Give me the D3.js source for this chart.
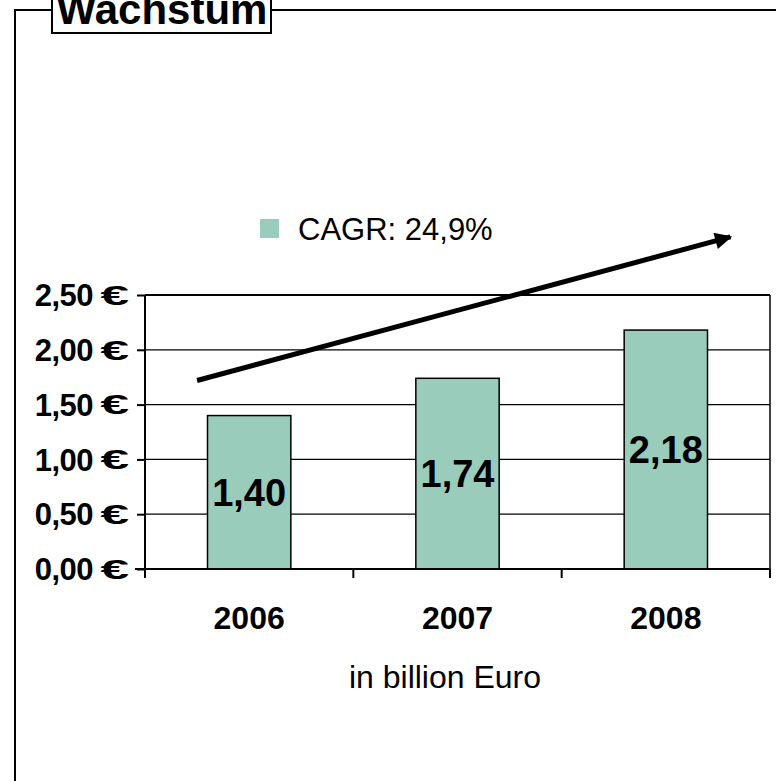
<!DOCTYPE html>
<html>
<head>
<meta charset="utf-8">
<script src="https://cdn.jsdelivr.net/npm/d3@7"></script>
<style>
  body { margin: 0; background: #fff; }
  svg { display: block; font-family: "Liberation Sans", Arial, sans-serif; }
</style>
</head>
<body>
<div id="chart"></div>
<script>
// data
let years = ["2006", "2007", "2008"];
let values = [1.40, 1.74, 2.18];
let valueLabels = ["1,40", "1,74", "2,18"];
let yTicks = [0, 0.5, 1, 1.5, 2, 2.5];
let yTickLabels = ["0,00", "0,50", "1,00", "1,50", "2,00", "2,50"];
let legendText = "CAGR: 24,9%";
let titleText = "Wachstum";
let unitText = "in billion Euro";
// trend arrow in (category index, value) units
let trendArrow = [[-0.25, 1.72], [2.31, 3.03]];

let W = 776, H = 781;
let plot = {left: 145, right: 770, top: 295, bottom: 569};
let barColor = "#99CCBB";

let svg = d3.select("#chart").append("svg")
    .attr("width", W)
    .attr("height", H);

// outer frame + title box
svg.append("path")
    .attr("d", "M15," + H + "V10H52M271,10H" + W)
    .attr("fill", "none")
    .attr("stroke", "#000")
    .attr("stroke-width", 2);
svg.append("rect")
    .attr("x", 52).attr("y", -10)
    .attr("width", 219).attr("height", 43)
    .attr("fill", "#fff")
    .attr("stroke", "#000")
    .attr("stroke-width", 2);
svg.append("text")
    .attr("x", 162).attr("y", 24)
    .attr("text-anchor", "middle")
    .attr("font-size", "42px")
    .attr("font-weight", "bold")
    .text(titleText);

let x = d3.scaleBand()
    .domain(years)
    .range([plot.left, plot.right])
    .padding(0);
let y = d3.scaleLinear()
    .domain([0, 2.5])
    .range([plot.bottom, plot.top]);
let xIdx = d3.scaleLinear()
    .domain([0, years.length - 1])
    .range([x(years[0]) + x.bandwidth() / 2, x(years[years.length - 1]) + x.bandwidth() / 2]);

// gridlines
svg.append("g")
    .selectAll("line")
    .data(yTicks.slice(1))
    .join("line")
    .attr("x1", plot.left).attr("x2", plot.right)
    .attr("y1", d => y(d)).attr("y2", d => y(d))
    .attr("stroke", "#000")
    .attr("stroke-width", (d, i) => i === yTicks.length - 2 ? 2 : 1.2);
svg.append("line")
    .attr("x1", plot.right).attr("x2", plot.right)
    .attr("y1", plot.top).attr("y2", plot.bottom)
    .attr("stroke", "#000")
    .attr("stroke-width", 1.5);

// bars
let barW = x.bandwidth() * 0.4;
svg.append("g")
    .selectAll("rect")
    .data(values)
    .join("rect")
    .attr("x", (d, i) => x(years[i]) + (x.bandwidth() - barW) / 2)
    .attr("y", d => y(d))
    .attr("width", barW)
    .attr("height", d => y(0) - y(d))
    .attr("fill", barColor)
    .attr("stroke", "#000")
    .attr("stroke-width", 1.5);

// y axis
let yAxis = d3.axisLeft(y)
    .tickValues(yTicks)
    .tickSize(8)
    .tickFormat("");
let yg = svg.append("g")
    .attr("transform", "translate(" + plot.left + ",0)")
    .call(yAxis);
yg.select(".domain").remove();
yg.selectAll(".tick line").attr("stroke", "#000").attr("stroke-width", 2);
yg.append("line")
    .attr("y1", plot.top).attr("y2", plot.bottom + 8)
    .attr("stroke", "#000").attr("stroke-width", 2);
yg.selectAll(".ylab")
    .data(yTicks)
    .join("text")
    .attr("class", "ylab")
    .attr("x", -52)
    .attr("y", d => y(d))
    .attr("dy", "0.36em")
    .attr("text-anchor", "end")
    .attr("font-size", "31px")
    .attr("font-weight", "bold")
    .attr("letter-spacing", "-0.5px")
    .attr("fill", "#000")
    .text((d, i) => yTickLabels[i]);
yg.selectAll(".yeur")
    .data(yTicks)
    .join("text")
    .attr("class", "yeur")
    .attr("transform", d => "translate(-16," + y(d) + ") scale(1.9,1)")
    .attr("dy", "0.36em")
    .attr("text-anchor", "end")
    .attr("font-size", "27px")
    .attr("font-weight", "bold")
    .attr("fill", "#000")
    .text("€");

// x axis
let xTickPos = years.map(d => x(d)).concat([plot.right]);
svg.append("line")
    .attr("x1", plot.left - 10).attr("x2", plot.right)
    .attr("y1", plot.bottom).attr("y2", plot.bottom)
    .attr("stroke", "#000").attr("stroke-width", 2);
svg.append("g")
    .selectAll("line")
    .data(xTickPos)
    .join("line")
    .attr("x1", d => d).attr("x2", d => d)
    .attr("y1", plot.bottom).attr("y2", plot.bottom + 9)
    .attr("stroke", "#000").attr("stroke-width", 2);
svg.append("g")
    .selectAll("text")
    .data(years)
    .join("text")
    .attr("x", d => x(d) + x.bandwidth() / 2)
    .attr("y", 629)
    .attr("text-anchor", "middle")
    .attr("font-size", "32px")
    .attr("font-weight", "bold")
    .text(d => d);

svg.append("text")
    .attr("x", 445)
    .attr("y", 688)
    .attr("text-anchor", "middle")
    .attr("font-size", "32px")
    .text(unitText);

// value labels
svg.append("g")
    .selectAll("text")
    .data(values)
    .join("text")
    .attr("x", (d, i) => x(years[i]) + x.bandwidth() / 2)
    .attr("y", d => (y(d) + y(0)) / 2)
    .attr("dy", "0.36em")
    .attr("text-anchor", "middle")
    .attr("font-size", "38px")
    .attr("font-weight", "bold")
    .text((d, i) => valueLabels[i]);

// legend
svg.append("rect")
    .attr("x", 260).attr("y", 219)
    .attr("width", 19).attr("height", 19)
    .attr("fill", barColor);
svg.append("text")
    .attr("x", 298).attr("y", 240)
    .attr("font-size", "31px")
    .text(legendText);

// trend arrow
svg.append("defs").append("marker")
    .attr("id", "head")
    .attr("viewBox", "0 0 10 10")
    .attr("refX", 9).attr("refY", 5)
    .attr("markerWidth", 4.4).attr("markerHeight", 3.4)
    .attr("markerUnits", "strokeWidth")
    .attr("orient", "auto")
    .append("path")
    .attr("d", "M0,0L10,5L0,10Z")
    .attr("fill", "#000");
svg.append("line")
    .attr("x1", xIdx(trendArrow[0][0])).attr("y1", y(trendArrow[0][1]))
    .attr("x2", xIdx(trendArrow[1][0])).attr("y2", y(trendArrow[1][1]))
    .attr("stroke", "#000")
    .attr("stroke-width", 5)
    .attr("marker-end", "url(#head)");
</script>
</body>
</html>
